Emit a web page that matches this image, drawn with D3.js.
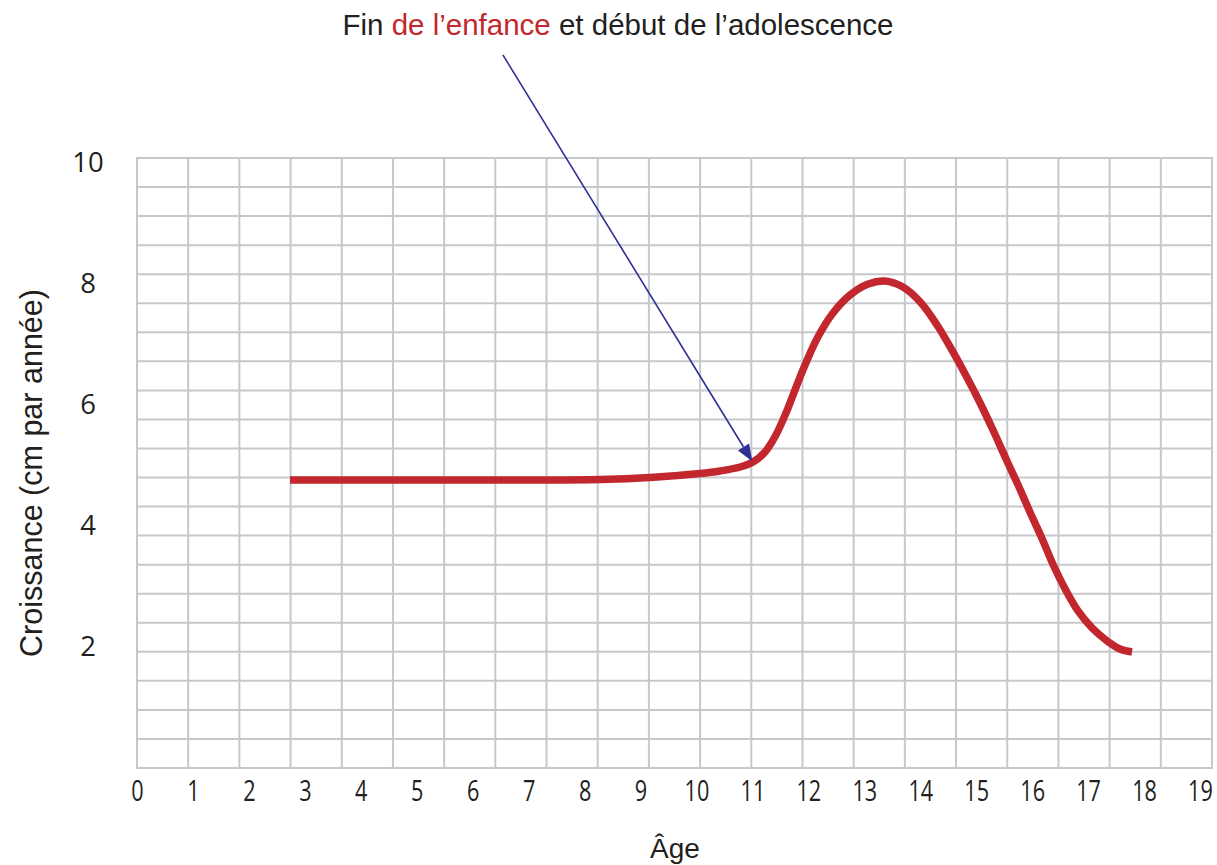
<!DOCTYPE html>
<html>
<head>
<meta charset="utf-8">
<script src="https://cdn.jsdelivr.net/npm/d3@7"></script>
<style>
  html, body { margin: 0; padding: 0; background: #ffffff; }
  svg { display: block; }
</style>
</head>
<body>
<svg id="chart" width="1217" height="865"></svg>
<script>
// ---- data ----
const ages   = [2.735, 4.70, 6.49, 8.28, 9.17, 10.06, 10.42, 10.78, 11.01, 11.225, 11.42, 11.60, 11.76, 11.94, 12.17, 12.44, 12.745, 13.07, 13.37, 13.69, 14.00, 14.30, 14.585, 14.84, 15.07, 15.30, 15.55, 15.765, 15.96, 16.18, 16.37, 16.59, 16.82, 17.07, 17.34, 17.57, 17.785];
const growth = [4.744, 4.744, 4.744, 4.752, 4.785, 4.851, 4.893, 4.959, 5.041, 5.207, 5.488, 5.851, 6.231, 6.645, 7.107, 7.504, 7.802, 7.983, 8.033, 7.934, 7.686, 7.306, 6.860, 6.430, 6.017, 5.570, 5.058, 4.628, 4.215, 3.769, 3.355, 2.942, 2.579, 2.298, 2.083, 1.950, 1.901];
const xTicks = [0,1,2,3,4,5,6,7,8,9,10,11,12,13,14,15,16,17,18,19];
const yTicks = [2,4,6,8,10];
const gridCells = 21;
const titleParts = [
  {text: "Fin ", color: "#231f20"},
  {text: "de l\u2019enfance", color: "#c1272d"},
  {text: " et d\u00e9but de l\u2019adolescence", color: "#231f20"}
];
const arrowFrom = [6.54, 11.77];   // [age, growth] of annotation arrow start
const arrowTo   = [11.0, 5.05];    // arrow tip on the curve
const xTitle = "\u00c2ge";
const yTitle = "Croissance (cm par ann\u00e9e)";

// ---- scales ----
const svg = d3.select("#chart");
const x = d3.scaleLinear().domain([0, 19]).range([137, 1200]);
const y = d3.scaleLinear().domain([0, 10]).range([767, 162]);
const gx = d3.scaleLinear().domain([0, gridCells]).range([137, 1212]);
const gy = d3.scaleLinear().domain([0, gridCells]).range([768, 158]);

// ---- grid ----
const gridColor = "#c7c8cb";
const grid = svg.append("g");
grid.selectAll("line.v").data(d3.range(gridCells + 1)).join("line")
  .attr("x1", d => gx(d)).attr("x2", d => gx(d))
  .attr("y1", gy(0) + 1).attr("y2", gy(gridCells) - 1)
  .attr("stroke", gridColor).attr("stroke-width", 2);
grid.selectAll("line.h").data(d3.range(gridCells + 1)).join("line")
  .attr("y1", d => gy(d)).attr("y2", d => gy(d))
  .attr("x1", gx(0) - 1).attr("x2", gx(gridCells) + 1)
  .attr("stroke", gridColor).attr("stroke-width", 2);

// ---- x tick labels ----
const xAxis = d3.axisBottom(x).tickValues(xTicks).tickSize(0).tickPadding(0);
const xg = svg.append("g").attr("transform", "translate(0,801)").call(xAxis);
xg.select(".domain").remove();
xg.selectAll("text")
  .attr("y", 0).attr("dy", 0)
  .attr("fill", "#231f20")
  .style("font-family", "'Open Sans', sans-serif")
  .style("font-size", "28.5px")
  .attr("transform", "scale(0.76,1)");

// ---- y tick labels ----
const yAxis = d3.axisLeft(y).tickValues(yTicks).tickSize(0).tickPadding(0);
const yg = svg.append("g").attr("transform", "translate(88,0)").call(yAxis);
yg.select(".domain").remove();
yg.selectAll("text")
  .attr("x", 0).attr("dy", "0.35em")
  .attr("text-anchor", "middle")
  .attr("fill", "#231f20")
  .style("font-family", "'Open Sans', sans-serif")
  .style("font-size", "27.5px");

// ---- curve ----
const pts = ages.map((a, i) => [a, growth[i]]);
const line = d3.line().x(d => x(d[0])).y(d => y(d[1])).curve(d3.curveCatmullRom.alpha(0.5));
svg.append("path").datum(pts)
  .attr("d", line)
  .attr("fill", "none")
  .attr("stroke", "#c1272d")
  .attr("stroke-width", 7.5)
  .attr("stroke-linecap", "butt")
  .attr("stroke-linejoin", "round");

// ---- annotation arrow ----
const ax1 = x(arrowFrom[0]), ay1 = y(arrowFrom[1]);
const ax2 = x(arrowTo[0]), ay2 = y(arrowTo[1]);
const ang = Math.atan2(ay2 - ay1, ax2 - ax1);
const headLen = 17, headW = 6.5;
const bx = ax2 - headLen * Math.cos(ang), by = ay2 - headLen * Math.sin(ang);
svg.append("line")
  .attr("x1", ax1).attr("y1", ay1).attr("x2", bx).attr("y2", by)
  .attr("stroke", "#2e3192").attr("stroke-width", 1.6);
const px = -Math.sin(ang), py = Math.cos(ang);
svg.append("path")
  .attr("d", `M${ax2},${ay2}L${bx + px * headW},${by + py * headW}L${bx - px * headW},${by - py * headW}Z`)
  .attr("fill", "#2e3192");

// ---- title ----
const title = svg.append("text")
  .attr("x", 618).attr("y", 35)
  .attr("text-anchor", "middle")
  .style("font-family", "'Liberation Sans', Arial, sans-serif")
  .style("font-size", "29.5px");
title.selectAll("tspan").data(titleParts).join("tspan")
  .attr("fill", d => d.color)
  .text(d => d.text);

// ---- axis titles ----
svg.append("text")
  .attr("x", 675).attr("y", 858)
  .attr("text-anchor", "middle")
  .attr("fill", "#231f20")
  .style("font-family", "'Liberation Sans', Arial, sans-serif")
  .style("font-size", "28px")
  .text(xTitle);

svg.append("text")
  .attr("transform", "translate(42,473) rotate(-90)")
  .attr("text-anchor", "middle")
  .attr("fill", "#231f20")
  .style("font-family", "'Liberation Sans', Arial, sans-serif")
  .style("font-size", "30.5px")
  .text(yTitle);
</script>
</body>
</html>
